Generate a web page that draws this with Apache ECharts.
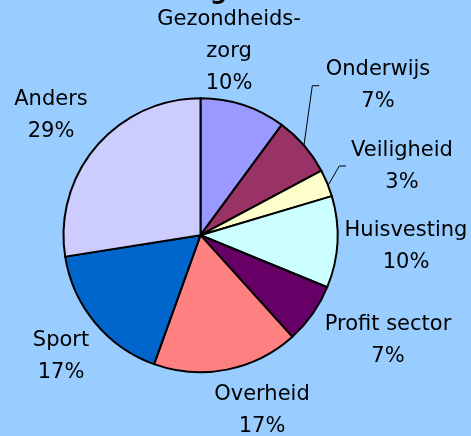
<!DOCTYPE html>
<html>
<head>
<meta charset="utf-8">
<script src="https://cdn.jsdelivr.net/npm/echarts@6/dist/echarts.min.js"></script>
<style>
html,body{margin:0;padding:0;background:#99CCFF;}
#c{width:471px;height:436px;}
</style>
</head>
<body>
<div id="c"></div>
<script>
const categories = ['Gezondheids-\nzorg', 'Onderwijs', 'Veiligheid', 'Huisvesting', 'Profit sector', 'Overheid', 'Sport', 'Anders'];
const values = [10.1, 7.1, 3.2, 10.8, 7.1, 17.2, 17.0, 27.5];
const percentLabels = ['10%', '7%', '3%', '10%', '7%', '17%', '17%', '29%'];
const colors = ['#9999FF', '#993366', '#FFFFCC', '#CCFFFF', '#660066', '#FF8080', '#0066CC', '#CCCCFF'];
const labelPos = [[229, 52], [378, 86], [402, 167], [406, 247], [388, 341], [262, 411], [61, 357], [51, 116]];
const leaderLines = {1: [[304, 145], [312.3, 85.7], [319.3, 85.7]], 2: [[328.3, 185], [339.3, 166], [346, 166]]};

const chart = echarts.init(document.getElementById('c'), null, {renderer: 'canvas'});
const data = categories.map((c, i) => ({
  name: c,
  value: values[i],
  itemStyle: {color: colors[i]},
  labelLine: {show: !!leaderLines[i], lineStyle: {color: '#000', width: 1}}
}));
chart.setOption({
  backgroundColor: '#99CCFF',
  animation: false,
  graphic: [{
    type: 'text', left: 210, top: -19,
    style: {text: 'g', font: 'bold 24px "DejaVu Sans"', fill: '#000'}
  }],
  series: [{
    type: 'pie',
    center: [200.5, 235.2],
    radius: 137,
    startAngle: 90,
    clockwise: true,
    avoidLabelOverlap: false,
    data: data,
    itemStyle: {borderColor: '#000', borderWidth: 2},
    label: {
      show: true,
      position: 'outside',
      color: '#000',
      fontFamily: 'DejaVu Sans',
      fontSize: 21,
      lineHeight: 32,
      align: 'center',
      formatter: p => p.name + '\n' + percentLabels[p.dataIndex]
    },
    labelLine: {show: false},
    labelLayout: function (params) {
      const i = params.dataIndex;
      const p = labelPos[i];
      const r = {x: p[0], y: p[1], align: 'center', verticalAlign: 'middle'};
      if (leaderLines[i]) r.labelLinePoints = leaderLines[i];
      return r;
    },
    emphasis: {disabled: true}
  }]
});
</script>
</body>
</html>
